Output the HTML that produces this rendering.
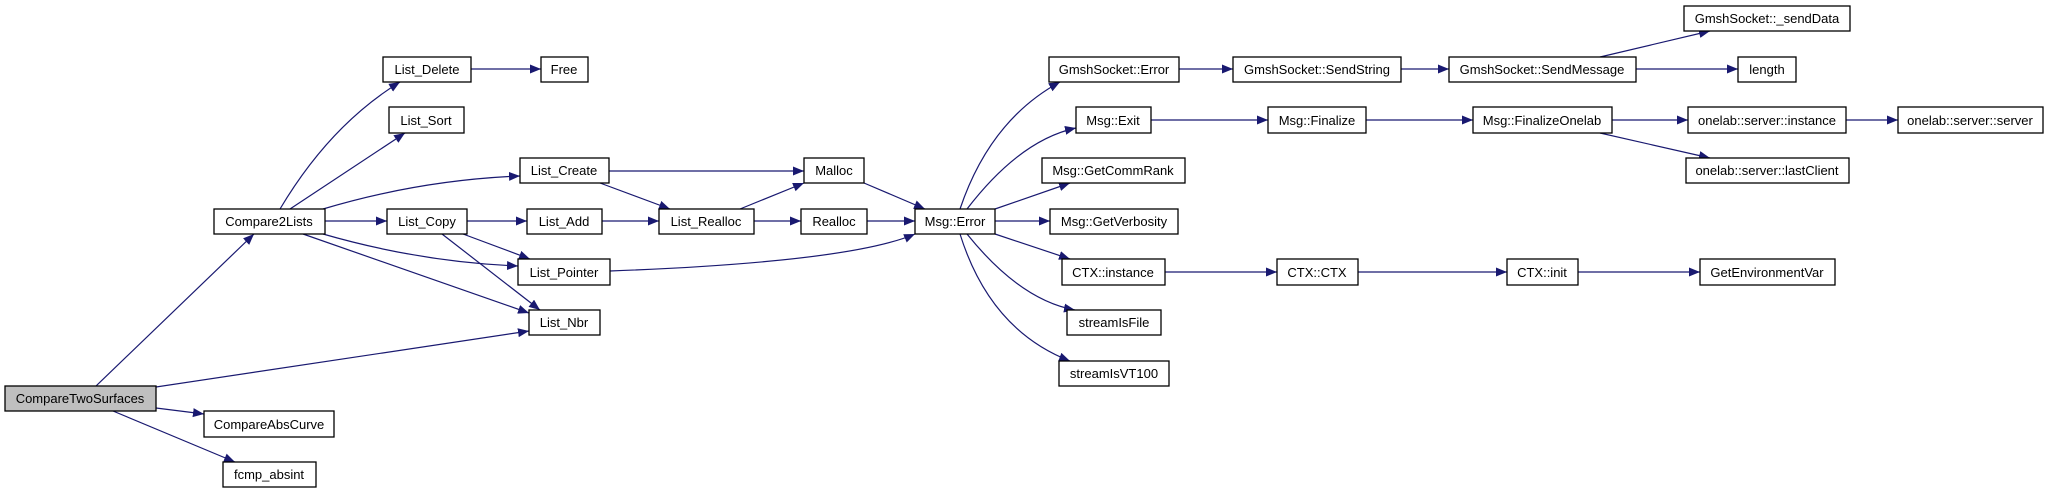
<!DOCTYPE html>
<html><head><meta charset="utf-8"><style>
html,body{margin:0;padding:0;background:#fff;}
svg{display:block}
text{font-family:"Liberation Sans",sans-serif;font-size:13px;fill:#000;}
</style></head><body>
<svg width="2048" height="493" viewBox="0 0 2048 493" xmlns="http://www.w3.org/2000/svg">
<defs>
<marker id="a" markerUnits="userSpaceOnUse" markerWidth="12" markerHeight="10" refX="11" refY="4.5" orient="auto">
<path d="M0,0 L11,4.5 L0,9 Z" fill="#191970"/>
</marker>
</defs>
<g fill="none" stroke="#191970" stroke-width="1.2" marker-end="url(#a)">
<path d="M96,386 L254,234"/>
<path d="M156,387 L529,331"/>
<path d="M156,408 L204,414"/>
<path d="M113,411 L235,462"/>
<path d="M280,209 Q330,125 400,82"/>
<path d="M471,69 L541,69"/>
<path d="M290,209 L405,133"/>
<path d="M323,209 Q420,180 520,176"/>
<path d="M325,221 L387,221"/>
<path d="M323,234 Q420,262 518,266"/>
<path d="M303,234 L529,313"/>
<path d="M467,221 L527,221"/>
<path d="M463,234 L530,259"/>
<path d="M442,234 L540,310"/>
<path d="M609,171 L804,171"/>
<path d="M600,183 L670,209"/>
<path d="M602,221 L659,221"/>
<path d="M740,209 L804,183"/>
<path d="M754,221 L801,221"/>
<path d="M610,271 Q850,262 915,234"/>
<path d="M864,183 L925,209"/>
<path d="M867,221 L915,221"/>
<path d="M960,209 Q990,120 1060,82"/>
<path d="M967,209 Q1020,140 1076,128"/>
<path d="M995,209 L1070,183"/>
<path d="M995,221 L1050,221"/>
<path d="M995,234 L1070,259"/>
<path d="M967,234 Q1020,300 1075,310"/>
<path d="M960,234 Q990,330 1070,361"/>
<path d="M1179,69 L1233,69"/>
<path d="M1401,69 L1449,69"/>
<path d="M1600,57 L1710,31"/>
<path d="M1636,69 L1738,69"/>
<path d="M1151,120 L1268,120"/>
<path d="M1366,120 L1473,120"/>
<path d="M1612,120 L1688,120"/>
<path d="M1600,133 L1710,158"/>
<path d="M1846,120 L1898,120"/>
<path d="M1165,272 L1277,272"/>
<path d="M1358,272 L1507,272"/>
<path d="M1578,272 L1700,272"/>
</g>
<g stroke="#000" stroke-width="1.3" fill="#fff">
<rect x="5" y="386" width="151" height="25" fill="#bfbfbf"/>
<rect x="214" y="209" width="111" height="25"/>
<rect x="383" y="57" width="88" height="25"/>
<rect x="541" y="57" width="47" height="25"/>
<rect x="389" y="107" width="75" height="26"/>
<rect x="520" y="158" width="89" height="25"/>
<rect x="387" y="209" width="80" height="25"/>
<rect x="527" y="209" width="75" height="25"/>
<rect x="659" y="209" width="95" height="25"/>
<rect x="518" y="259" width="92" height="26"/>
<rect x="529" y="310" width="71" height="25"/>
<rect x="204" y="411" width="130" height="26"/>
<rect x="223" y="462" width="93" height="25"/>
<rect x="804" y="158" width="60" height="25"/>
<rect x="801" y="209" width="66" height="25"/>
<rect x="915" y="209" width="80" height="25"/>
<rect x="1049" y="57" width="130" height="25"/>
<rect x="1233" y="57" width="168" height="25"/>
<rect x="1076" y="107" width="75" height="26"/>
<rect x="1268" y="107" width="98" height="26"/>
<rect x="1042" y="158" width="143" height="25"/>
<rect x="1050" y="209" width="128" height="25"/>
<rect x="1062" y="259" width="103" height="26"/>
<rect x="1277" y="259" width="81" height="26"/>
<rect x="1067" y="310" width="94" height="25"/>
<rect x="1059" y="361" width="110" height="25"/>
<rect x="1684" y="6" width="166" height="25"/>
<rect x="1449" y="57" width="187" height="25"/>
<rect x="1738" y="57" width="58" height="25"/>
<rect x="1473" y="107" width="139" height="26"/>
<rect x="1688" y="107" width="158" height="26"/>
<rect x="1898" y="107" width="145" height="26"/>
<rect x="1686" y="158" width="163" height="25"/>
<rect x="1507" y="259" width="71" height="26"/>
<rect x="1700" y="259" width="135" height="26"/>
</g>
<g text-anchor="middle">
<text x="80" y="403">CompareTwoSurfaces</text>
<text x="269" y="226">Compare2Lists</text>
<text x="427" y="74">List_Delete</text>
<text x="564" y="74">Free</text>
<text x="426" y="125">List_Sort</text>
<text x="564" y="175">List_Create</text>
<text x="427" y="226">List_Copy</text>
<text x="564" y="226">List_Add</text>
<text x="706" y="226">List_Realloc</text>
<text x="564" y="277">List_Pointer</text>
<text x="564" y="327">List_Nbr</text>
<text x="269" y="429">CompareAbsCurve</text>
<text x="269" y="479">fcmp_absint</text>
<text x="834" y="175">Malloc</text>
<text x="834" y="226">Realloc</text>
<text x="955" y="226">Msg::Error</text>
<text x="1114" y="74">GmshSocket::Error</text>
<text x="1317" y="74">GmshSocket::SendString</text>
<text x="1113" y="125">Msg::Exit</text>
<text x="1317" y="125">Msg::Finalize</text>
<text x="1113" y="175">Msg::GetCommRank</text>
<text x="1114" y="226">Msg::GetVerbosity</text>
<text x="1113" y="277">CTX::instance</text>
<text x="1317" y="277">CTX::CTX</text>
<text x="1114" y="327">streamIsFile</text>
<text x="1114" y="378">streamIsVT100</text>
<text x="1767" y="23">GmshSocket::_sendData</text>
<text x="1542" y="74">GmshSocket::SendMessage</text>
<text x="1767" y="74">length</text>
<text x="1542" y="125">Msg::FinalizeOnelab</text>
<text x="1767" y="125">onelab::server::instance</text>
<text x="1970" y="125">onelab::server::server</text>
<text x="1767" y="175">onelab::server::lastClient</text>
<text x="1542" y="277">CTX::init</text>
<text x="1767" y="277">GetEnvironmentVar</text>
</g>
</svg>
</body></html>
